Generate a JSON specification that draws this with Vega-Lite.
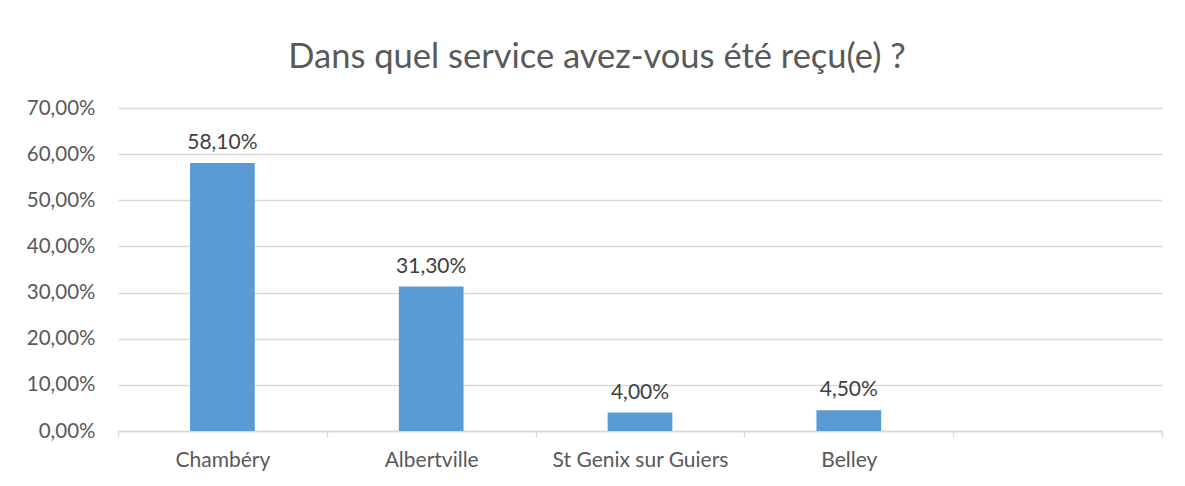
{
  "$schema": "https://vega.github.io/schema/vega-lite/v6.json",
  "width": 1044,
  "height": 323,
  "autosize": {"type": "none"},
  "padding": {"left": 118, "top": 108, "right": 23, "bottom": 55},
  "background": "white",
  "title": {
    "text": "Dans quel service avez-vous été reçu(e) ?",
    "font": "Lato",
    "fontSize": 34.5,
    "fontWeight": "normal",
    "color": "#595959",
    "anchor": "middle",
    "frame": "group",
    "dx": -43,
    "dy": 45,
    "baseline": "alphabetic",
    "offset": 41
  },
  "data": {
    "values": [
      {"service": "Chambéry", "pct": 0.581},
      {"service": "Albertville", "pct": 0.313},
      {"service": "St Genix sur Guiers", "pct": 0.04},
      {"service": "Belley", "pct": 0.045}
    ]
  },
  "encoding": {
    "x": {
      "field": "service",
      "type": "nominal",
      "sort": null,
      "scale": {"domain": ["Chambéry", "Albertville", "St Genix sur Guiers", "Belley", " "], "paddingInner": 0, "paddingOuter": 0},
      "axis": {
        "title": null,
        "labelAngle": 0,
        "labelFont": "Lato",
        "labelFontSize": 21,
        "labelColor": "#595959",
        "labelPadding": 12,
        "domainColor": "#d9d9d9",
        "domainWidth": 1.3,
        "tickColor": "#d9d9d9",
        "tickWidth": 1.3,
        "tickSize": 6,
        "tickBand": "extent",
        "grid": false
      }
    },
    "y": {
      "field": "pct",
      "type": "quantitative",
      "scale": {"domain": [0, 0.7], "nice": false},
      "axis": {
        "title": null,
        "values": [0, 0.1, 0.2, 0.3, 0.4, 0.5, 0.6, 0.7],
        "labelExpr": "replace(format(datum.value, '.2%'), '.', ',')",
        "labelFont": "Lato",
        "labelFontSize": 20.5,
        "labelColor": "#595959",
        "labelPadding": 23,
        "ticks": false,
        "domain": false,
        "grid": true,
        "gridColor": "#d9d9d9",
        "gridWidth": 1.3
      }
    }
  },
  "layer": [
    {
      "mark": {"type": "bar", "color": "#5b9bd5", "width": {"band": 0.31}}
    },
    {
      "mark": {"type": "text", "font": "Lato", "fontSize": 21, "color": "#404040", "dy": -14, "baseline": "alphabetic"},
      "encoding": {
        "text": {"field": "pct", "type": "quantitative", "format": ".2%"}
      }
    }
  ],
  "config": {"view": {"stroke": null}, "locale": {"number": {"decimal": ",", "thousands": " ", "grouping": [3], "currency": ["", " €"], "percent": "%"}}}
}
